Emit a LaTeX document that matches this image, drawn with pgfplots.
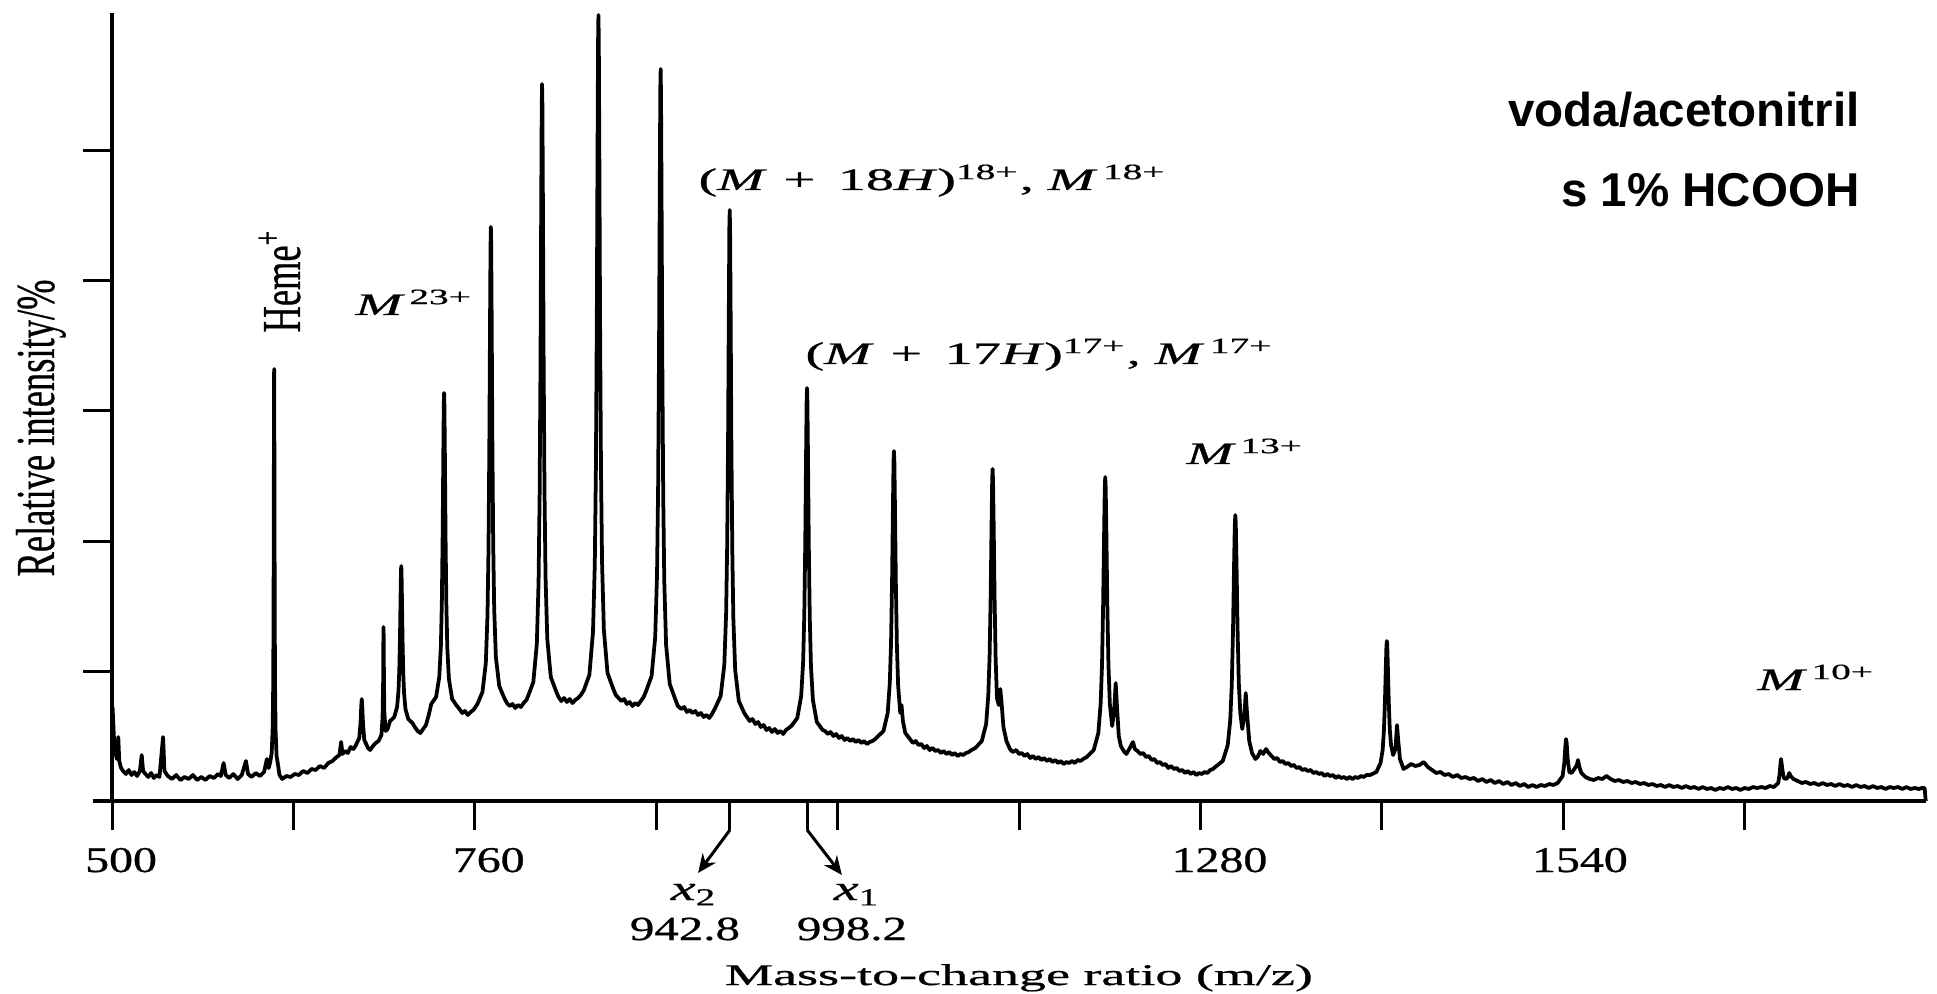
\documentclass[border=0pt]{standalone}
\usepackage{fontspec}
\setmainfont{Liberation Serif}[FakeBold=0.6]
\newfontfamily\arial{Liberation Sans}
\usepackage{graphicx}
\usepackage{pgfplots}
\pgfplotsset{compat=1.18}
\usetikzlibrary{arrows.meta}
\newcommand\hs[2]{\scalebox{#1}[1]{#2}}
\newcommand\ann{\fontsize{12.5}{14}\selectfont}
\newcommand\tl{\fontsize{14.5}{16}\selectfont}
\newcommand\xl{\fontsize{13.5}{15}\selectfont}
\begin{document}
\begin{tikzpicture}
\begin{axis}[
  scale only axis, width=725.6pt, height=315.2pt,
  xmin=500, xmax=1800, ymin=0, ymax=788,
  axis lines=left, axis line style={-, line width=1.3pt},
  y axis line style={line width=1.6pt},
  x axis line style={shorten <=-7.6pt},
  xtick={500,630,760,890,1020,1150,1280,1410,1540,1670},
  xticklabels={},
  extra x ticks={942.8,998.2},
  extra x tick labels={},
  ytick={130,260,390,520,650}, yticklabels={},
  tick align=outside, xtick pos=left, ytick pos=left,
  major tick length=11.6pt,
  tick style={line width=1.2pt, black},
  clip=false,
]
\addplot[black, line width=1.5pt, line join=round, mark=none] coordinates {
(500.4,94) (501.5,60) (502.5,48) (503.5,42) (504.5,64) (505.2,40) (506.5,33) (508,30) (510,27) (512,31) (514,26) (516,29) (518,25) (520,30) (521.3,46) (522.3,30) (524,27) (526,24) (528,28) (530,23) (532,26) (534,24) (536.6,64) (537.6,30) (540,25) (543,22) (546,26) (549,21) (552,24) (555,22) (558,26) (561,21) (564,24) (567,21) (570,25) (573,23) (576,27) (578,25) (580,38) (581.5,26) (584,23) (587,27) (590,22) (593,26) (596,40) (597.5,27) (600,24) (603,28) (606,25) (609,29) (611,42) (612.3,33)
(613.4,39) (614.45,48) (615.15,73) (615.5,113) (615.71,168) (615.89,254) (616.03,353) (616.13,418) (616.2,432) (616.27,415) (616.38,350) (616.52,251) (616.69,165) (616.9,110) (617.25,70) (617.95,45) (619.0,36)
(620,26) (622,22) (625,25) (628,24) (631,27) (634,26) (637,30) (640,28) (643,32) (646,31) (649,35) (652,33) (655,38) (658,40) (661,44) (663,46) (664.2,59) (665.2,47) (667,50) (669,48) (671,54) (673,52)
(674.5,55) (677.2,63) (678.1,78) (678.64,95) (679.0,102) (679.36,94) (679.9,77) (680.8,61) (683.5,53)
(685,51) (687,55) (689,58) (691,60)
(693.1,66) (693.9,84) (694.3,118) (694.48,159) (694.6,174) (694.72,160) (694.9,120) (695.2,88) (696.1,70) (697.5,72)
(699.3,80) (702.3,84) (704.3,94) (705.3,110) (705.9,131) (706.4,165) (706.8,204) (707.1,230) (707.3,235) (707.5,228) (707.8,202) (708.2,163) (708.7,129) (709.3,108) (710.3,92) (712.3,82) (715.3,78)
(717,74) (719,70) (721,68) (723,72) (725,76) (727,86)
(728.8,97) (732.25,104) (734.55,124) (735.7,155) (736.39,199) (736.97,267) (737.43,346) (737.77,397) (738.0,408) (738.23,395) (738.58,344) (739.04,265) (739.61,197) (740.3,153) (741.45,122) (743.75,102) (747.2,95)
(749,92) (751,88) (753,90) (755,86) (757,89) (759,91)
(761.9,97) (765.5,109) (767.9,138) (769.1,186) (769.82,253) (770.42,356) (770.9,475) (771.26,553) (771.5,574) (771.74,559) (772.1,481) (772.58,362) (773.18,259) (773.9,192) (775.1,144) (777.5,115) (781.1,103)
(783,98) (785,95) (787,97) (789,93) (791,96) (793,94) (795,98) (797,101)
(798.2,105) (801.95,119) (804.45,157) (805.7,219) (806.45,305) (807.08,437) (807.58,591) (807.95,691) (808.2,717) (808.45,696) (808.83,596) (809.33,442) (809.95,310) (810.7,224) (811.95,162) (814.45,124) (818.2,110)
(820,104) (822,100) (824,103) (826,99) (828,102) (830,98) (832,101) (834,103) (836,106)
(838.2,111) (842.1,126) (844.7,169) (846.0,237) (846.78,332) (847.43,478) (847.95,648) (848.34,759) (848.6,786) (848.86,761) (849.25,650) (849.77,480) (850.42,334) (851.2,239) (852.5,171) (855.1,128) (859.0,113)
(861,106) (863,103) (865,100) (867,102) (869,97) (871,99) (873,95) (875,98) (877,96) (879,100) (881,104)
(882.8,110) (886.7,125) (889.3,164) (890.6,227) (891.38,315) (892.03,451) (892.55,609) (892.94,712) (893.2,732) (893.46,704) (893.85,601) (894.37,443) (895.02,307) (895.8,219) (897.1,156) (899.7,117) (903.6,102)
(905.5,95) (908,92) (910,94) (912,89) (914,91) (916,88) (918,90) (920,86) (922,88) (924,84) (926,86) (928,83) (930,87)
(932.3,93) (936.2,105) (938.8,136) (940.1,187) (940.88,257) (941.53,366) (942.05,492) (942.44,575) (942.7,591) (942.96,570) (943.35,487) (943.87,361) (944.52,252) (945.3,182) (946.6,131) (949.2,100) (953.1,88)
(955,84) (957,80) (959,82) (961,77) (963,79) (965,74) (967,76) (969,71) (971,73) (973,69) (975,72) (977,68) (979,70) (981,67) (983,71) (985,73)
(986.9,75) (991.1,83) (993.9,105) (995.3,139) (996.14,187) (996.84,260) (997.4,346) (997.82,402) (998.1,413) (998.38,398) (998.8,342) (999.36,256) (1000.06,183) (1000.9,135) (1002.3,101) (1005.1,79) (1009.3,71)
(1011,70) (1013,67) (1015,69) (1017,65) (1019,67) (1021,63) (1023,65) (1025,61) (1027,63) (1029,60) (1031,62) (1033,59) (1035,61) (1037,58) (1039,60) (1041,57) (1043,59) (1045,60) (1047,62)
(1048.4,64) (1052.9,70) (1055.9,88) (1057.4,118) (1058.3,158) (1059.05,221) (1059.65,293) (1060.1,341) (1060.4,350) (1060.7,338) (1061.15,290) (1061.75,218) (1062.5,155) (1063.4,115) (1064.9,88) (1065.8,96) (1066.8,80) (1068.5,68) (1072.4,61)
(1074,58) (1076,60) (1078,56) (1080,57) (1082,53) (1084,55) (1086,51) (1088,53) (1090,50) (1092,51) (1094,48) (1096,50) (1098,47) (1100,49) (1102,46) (1104,48) (1106,45) (1108,47) (1110,46) (1112,48) (1114,49) (1116,51)
(1118.7,53) (1123.35,60) (1126.45,77) (1128.0,106) (1128.93,145) (1129.71,206) (1130.33,276) (1130.79,322) (1131.1,332) (1131.41,319) (1131.88,273) (1132.5,203) (1133.27,142) (1134.2,103) (1135.5,96) (1136.6,112) (1137.4,100) (1138.85,74) (1141,60) (1143.5,52)
(1145.5,49) (1148,51) (1150,47) (1152,48) (1154,45) (1156,47) (1158,43) (1160,45) (1162,42) (1164,44) (1166,41) (1168,43) (1170,40) (1172,42) (1174,39) (1176,41) (1178,38) (1180,40) (1182,37) (1184,39) (1186,38) (1188,40) (1190,38) (1192,41) (1194,40) (1196,42)
(1198.6,44) (1203.55,51) (1206.85,68) (1208.5,97) (1209.49,136) (1210.3,197) (1210.98,267) (1211.47,313) (1211.8,324) (1212.13,313) (1212.63,267) (1213.29,197) (1214.11,136) (1215.1,97) (1216.75,75) (1218.2,90) (1219.3,118) (1220.2,95) (1221.5,65) (1223,55) (1225,50)
(1227,47) (1229,52) (1231.7,59) (1233,52) (1235,50) (1237,47) (1239,48) (1241,44) (1243,45) (1245,41) (1247,42) (1249,38) (1251,39) (1253,36) (1255,37) (1257,33) (1259,35) (1261,32) (1263,33) (1265,30) (1267,31) (1269,28) (1271,30) (1273,27) (1275,29) (1277,26) (1279,28) (1281,27) (1283,29) (1285,28) (1287,31) (1289,32)
(1290.6,34) (1296.0,40) (1299.6,56) (1301.4,81) (1302.48,116) (1303.38,171) (1304.1,234) (1304.64,275) (1305.0,286) (1305.36,277) (1305.9,236) (1306.62,173) (1307.52,118) (1308.6,88) (1310.0,72) (1311.5,85) (1312.5,108) (1313.4,88) (1315,60) (1317,48) (1319.4,42)
(1321,44) (1323,50) (1325,47) (1327,52) (1329,48) (1331,45) (1333,42) (1335,43) (1337,39) (1339,40) (1341,37) (1343,38) (1345,35) (1347,36) (1349,33) (1351,34) (1353,31) (1355,32) (1357,30) (1359,31) (1361,28) (1363,29) (1365,27) (1367,28) (1369,25) (1371,27) (1373,25) (1375,26) (1377,23) (1379,25) (1381,23) (1383,24) (1385,22) (1387,24) (1389,22) (1391,24) (1393,23) (1395,25) (1397,24) (1399,26)
(1401.6,26) (1406.1,29) (1409.1,38) (1410.6,51) (1411.5,70) (1412.25,99) (1412.85,132) (1413.3,154) (1413.6,160) (1413.9,156) (1414.35,134) (1414.95,101) (1415.7,72) (1416.6,56) (1418.1,46) (1419.8,52) (1420.9,76) (1421.8,60) (1423,42) (1425.6,32)
(1428,34) (1431,37) (1434,35) (1437,36) (1440,39) (1443,34) (1446,31) (1449,28) (1452,29) (1455,26) (1458,27) (1461,24) (1464,26) (1467,23) (1470,24) (1473,22) (1476,23) (1479,20) (1482,22) (1485,19) (1488,21) (1491,18) (1494,20) (1497,17) (1500,19) (1503,16) (1506,18) (1509,15) (1512,17) (1515,14) (1518,16) (1521,14) (1524,16) (1527,15) (1530,17) (1533,16)
(1536,18) (1539.6,25) (1540.8,38) (1541.52,54) (1542.0,62) (1542.48,58) (1543.2,42) (1544.4,29) (1546,28) (1548,32) (1549.8,36) (1550.6,41) (1551.6,34) (1553,28) (1556,24)
(1559,22) (1562,21) (1565,23) (1568,22) (1571,25) (1574,22) (1577,20) (1580,21) (1583,19) (1586,20) (1589,18) (1592,19) (1595,17) (1598,18) (1601,16) (1604,17) (1607,15) (1610,16) (1613,14) (1616,16) (1619,14) (1622,15) (1625,13) (1628,15) (1631,13) (1634,14) (1637,12) (1640,14) (1643,12) (1646,13) (1649,11) (1652,13) (1655,12) (1658,14) (1661,12) (1664,13) (1667,11) (1670,13) (1673,12) (1676,14) (1679,13) (1682,14) (1685,13) (1688,15)
(1691,14) (1694.1,18) (1695.1,27) (1695.7,37) (1696.1,42) (1696.5,38) (1697.1,31) (1698.1,23) (1700,22) (1701,24) (1702,28) (1703,25) (1705,22) (1708,20)
(1711,18) (1714,19) (1717,17) (1720,18) (1723,16) (1726,18) (1729,16) (1732,17) (1735,15) (1738,17) (1741,15) (1744,16) (1747,14) (1750,16) (1753,14) (1756,15) (1759,13) (1762,15) (1765,13) (1768,14) (1771,12) (1774,14) (1777,13) (1780,14) (1783,12) (1786,14) (1789,12) (1792,13) (1795,12) (1797,13) (1799,13) (1799.8,0)
};
% tick labels
\node[anchor=base, inner sep=0] at (506.5,-71) {\tl\hs{1.32}{500}};
\node[anchor=base, inner sep=0] at (770,-71) {\tl\hs{1.32}{760}};
\node[anchor=base, inner sep=0] at (1293.7,-71) {\tl\hs{1.32}{1280}};
\node[anchor=base, inner sep=0] at (1552,-71) {\tl\hs{1.32}{1540}};
% arrows
\draw[line width=1.2pt, -{Stealth[length=7.5pt,width=6.5pt]}] (942.8,-29) -- (920,-72);
\draw[line width=1.2pt, -{Stealth[length=7.5pt,width=6.5pt]}] (998.2,-29) -- (1023.1,-74);
\node[anchor=base, inner sep=0] at (917.1,-99) {\fontsize{14}{16}\selectfont\hs{1.6}{\textit{x}\textsubscript{2}}};
\node[anchor=base, inner sep=0] at (910.6,-139) {\xl\hs{1.45}{942.8}};
\node[anchor=base, inner sep=0] at (1033.9,-99) {\fontsize{14}{16}\selectfont\hs{1.6}{\textit{x}\textsubscript{1}}};
\node[anchor=base, inner sep=0] at (1030.3,-139) {\xl\hs{1.45}{998.2}};
% axis labels
\node[anchor=base, inner sep=0] at (1150,-184) {\fontsize{12}{14}\selectfont\hs{1.8}{Mass-to-change ratio (m/z)}};
\node[anchor=base, inner sep=0, rotate=90] at (458.4,373) {\fontsize{14.6}{17}\selectfont\scalebox{1}[1.5]{Relative intensity/\%}};
% annotations
\node[anchor=base west, inner sep=0, rotate=90] at (634.7,468) {\fontsize{14.6}{17}\selectfont\scalebox{1}[1.5]{Heme\textsuperscript{+}}};
\node[anchor=base west, inner sep=0] at (674.1,486) {\ann\hs{1.8}{\textit{M}\kern0.08em\textsuperscript{23+}}};
\node[anchor=base west, inner sep=0] at (920.0,611) {\ann\hs{1.8}{(\textit{M}\hspace{0.3em}+\hspace{0.4em}18\textit{H})\textsuperscript{18+}, \textit{M}\kern0.1em\textsuperscript{18+}}};
\node[anchor=base west, inner sep=0] at (996.6,437) {\ann\hs{1.8}{(\textit{M}\hspace{0.3em}+\hspace{0.4em}17\textit{H})\textsuperscript{17+}, \textit{M}\kern0.1em\textsuperscript{17+}}};
\node[anchor=base west, inner sep=0] at (1269.7,337) {\ann\hs{1.8}{\textit{M}\kern0.08em\textsuperscript{13+}}};
\node[anchor=base west, inner sep=0] at (1678.9,111) {\ann\hs{1.8}{\textit{M}\kern0.08em\textsuperscript{10+}}};
\node[anchor=base east, inner sep=0] at (1752.7,674) {\arial\bfseries\fontsize{19}{22}\selectfont voda/acetonitril};
\node[anchor=base east, inner sep=0] at (1752.7,594) {\arial\bfseries\fontsize{19}{22}\selectfont s 1\% HCOOH};
\coordinate (O) at (rel axis cs:0,0);
\end{axis}
\pgfresetboundingbox
\path (O) ++(-44.8pt,-76.8pt) rectangle ++(774.8pt,397.2pt);
\end{tikzpicture}
\end{document}
